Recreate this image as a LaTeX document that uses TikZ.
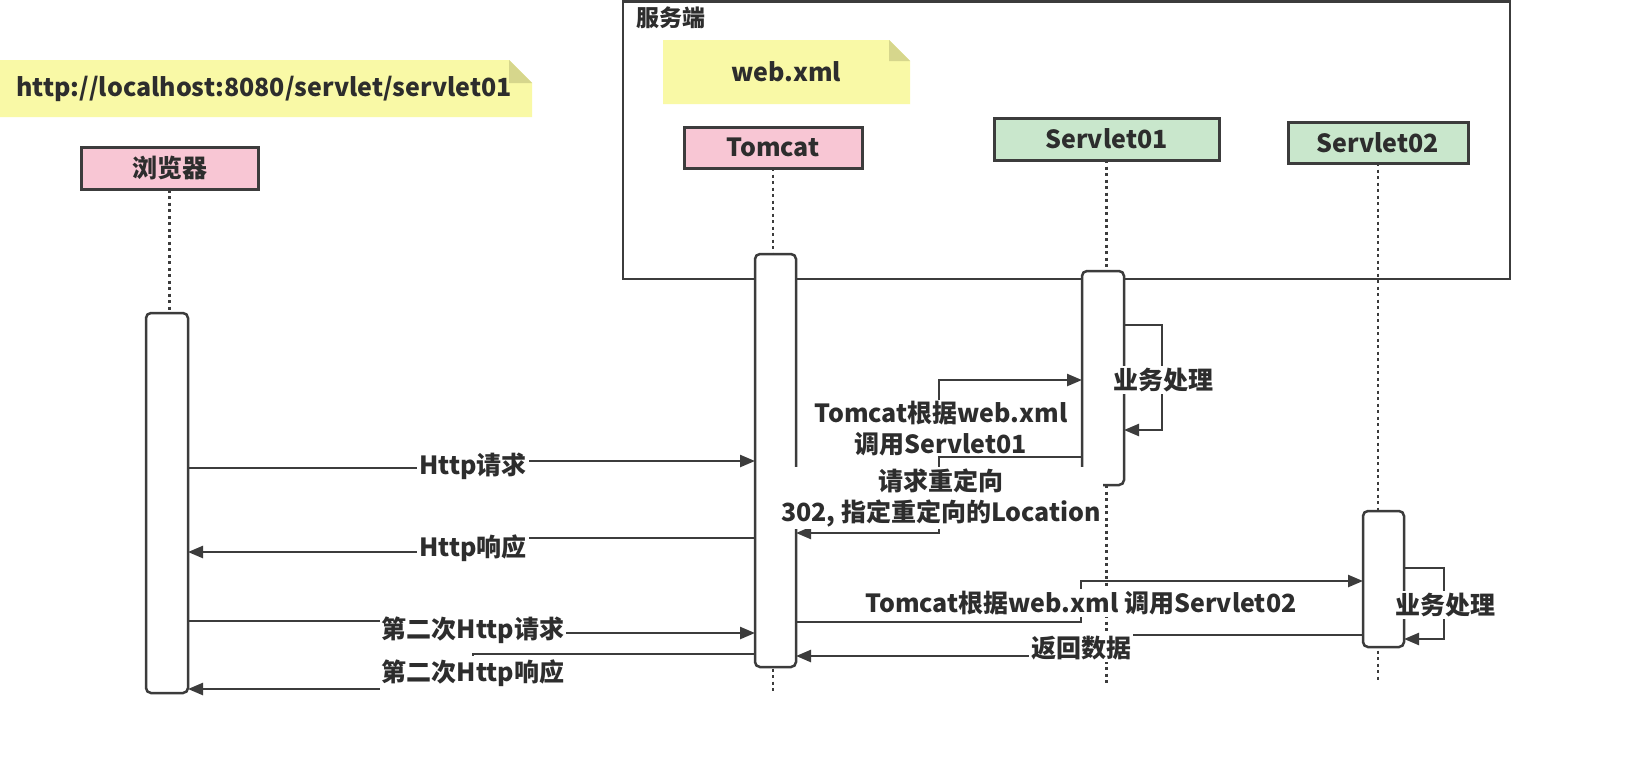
\documentclass[tikz,border=0pt]{standalone}
\usepackage{fontspec}
\setmainfont{Noto Sans CJK SC}
\usetikzlibrary{arrows.meta}
\definecolor{ln}{RGB}{60,60,60}
\definecolor{pinkf}{RGB}{248,198,212}
\definecolor{greenf}{RGB}{201,231,204}
\definecolor{notey}{RGB}{249,249,166}
\definecolor{foldy}{RGB}{214,214,140}
\definecolor{txt}{RGB}{45,45,45}
\tikzset{
 actor/.style={draw=ln, line width=3pt, minimum height=42pt, inner sep=0pt, outer sep=0pt, text=txt, font=\fontsize{25}{30}\selectfont\bfseries},
 pinkbox/.style={actor, fill=pinkf},
 greenbox/.style={actor, fill=greenf},
 actbox/.style={draw=ln, fill=white, line width=2.5pt, rounded corners=5pt, inner sep=0pt, outer sep=0pt},
 life/.style={draw=ln, line width=2.5pt, dash pattern=on 3pt off 3.5pt},
 msg/.style={draw=ln, line width=2.4pt, -{Triangle[length=15pt,width=12pt]}},
 lbl/.style={fill=white, inner sep=2pt, text=txt, align=center, font=\fontsize{25}{31}\selectfont\bfseries},
 notetext/.style={inner sep=0pt, text=txt, font=\fontsize{25}{30}\selectfont\bfseries},
}
\begin{document}
\begin{tikzpicture}[x=1pt,y=-1pt]
\fill[white] (0,0) rectangle (1641,782);
\useasboundingbox (0,0) rectangle (1641,782);
% server frame
\draw[ln, line width=2.5pt] (623,1.5) rectangle (1510,279);
\node[anchor=west, text=txt, font=\fontsize{23}{28}\selectfont\bfseries, inner sep=0pt] (srv) at (636,18) {服务端};
% notes
\fill[notey] (0,60) -- (509,60) -- (532,83) -- (532,117) -- (0,117) -- cycle;
\fill[foldy] (509,60) -- (532,83) -- (509,83) -- cycle;
\node[notetext] (url) at (264,89) {http://localhost:8080/servlet/servlet01};
\fill[notey] (663,40) -- (889,40) -- (910,61) -- (910,104) -- (663,104) -- cycle;
\fill[foldy] (889,40) -- (910,61) -- (889,61) -- cycle;
\node[notetext] (wx) at (786,72) {web.xml};
% actors
\node[pinkbox, minimum width=177pt] (br) at (169.5,168.5) {浏览器};
\node[pinkbox, minimum width=178pt, minimum height=41pt] (tc) at (773,147.5) {Tomcat};
\node[greenbox, minimum width=225pt] (s1) at (1106.5,139) {Servlet01};
\node[greenbox, minimum width=180pt, minimum height=41pt] (s2) at (1378,142.5) {Servlet02};
% lifelines
\draw[life] (br.south) -- (br.south |- 0,693);
\draw[life] (tc.south) -- (tc.south |- 0,693);
\draw[life] (s1.south) -- (s1.south |- 0,686);
\draw[life] (s2.south) -- (s2.south |- 0,680);
% activations
\node[actbox, minimum width=42pt, minimum height=380pt] (bA) at (167,503) {};
\node[actbox, minimum width=41pt, minimum height=413pt] (tA) at (775.5,460.5) {};
\node[actbox, minimum width=42pt, minimum height=214pt] (s1A) at (1103,378) {};
\node[actbox, minimum width=41pt, minimum height=136pt] (s2A) at (1383.5,579) {};
% messages
\draw[msg] (bA.east |- 0,468) -- (473,468) -- (473,461) -- (tA.west |- 0,461);
\node[lbl] (m1) at (473,466) {Http请求};
\draw[msg] (tA.east |- 0,478) -- (939,478) -- (939,380) -- (s1A.west |- 0,380);
\node[lbl] (m2) at (941,429) {Tomcat根据web.xml\\调用Servlet01};
\draw[msg] (s1A.west |- 0,457) -- (939,457) -- (939,533) -- (tA.east |- 0,533);
\node[lbl] (m3) at (941,498) {请求重定向\\302, 指定重定向的Location};
\draw[msg] (s1A.east |- 0,325) -- (1162,325) -- (1162,430) -- (s1A.east |- 0,430);
\node[lbl] (p1) at (1163,380) {业务处理};
\draw[msg] (tA.west |- 0,538) -- (473,538) -- (473,552) -- (bA.east |- 0,552);
\node[lbl] (m4) at (473,548) {Http响应};
\draw[msg] (tA.east |- 0,622) -- (1081,622) -- (1081,581) -- (s2A.west |- 0,581);
\node[lbl] (m5) at (1081,603) {Tomcat根据web.xml 调用Servlet02};
\draw[msg] (s2A.east |- 0,568) -- (1444,568) -- (1444,639) -- (s2A.east |- 0,639);
\node[lbl] (p2) at (1445,605) {业务处理};
\draw[msg] (s2A.west |- 0,635) -- (1081,635) -- (1081,656) -- (tA.east |- 0,656);
\node[lbl] (m6) at (1081,648) {返回数据};
\draw[msg] (bA.east |- 0,621) -- (473,621) -- (473,633) -- (tA.west |- 0,633);
\node[lbl] (m7) at (473,630) {第二次Http请求};
\draw[msg] (tA.west |- 0,654) -- (473,654) -- (473,689) -- (bA.east |- 0,689);
\node[lbl, minimum height=35pt] (m8) at (473,673) {第二次Http响应};
\end{tikzpicture}
\end{document}
